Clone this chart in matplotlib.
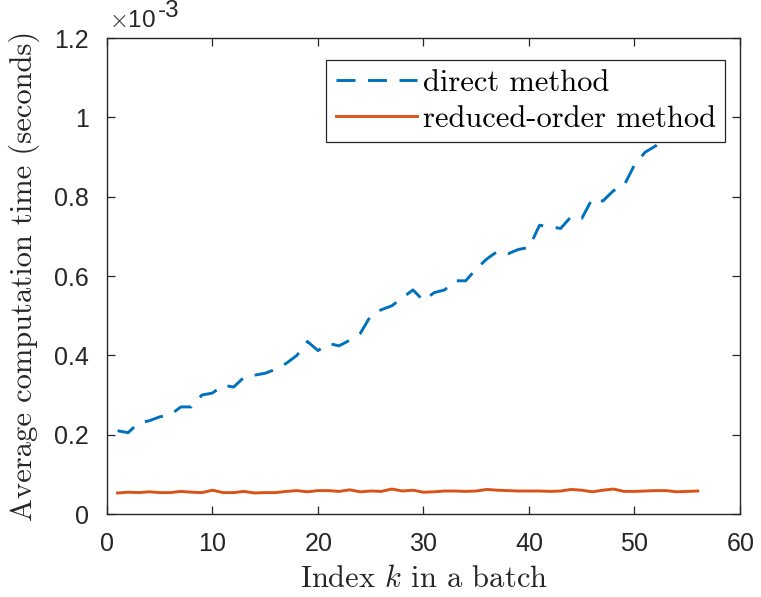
import matplotlib
matplotlib.use("Agg")
import matplotlib.pyplot as plt
from matplotlib.ticker import FuncFormatter

# Batch index
k_index = list(range(1, 57))

# Average computation time, in units of 1e-3 seconds
direct_method = [0.210, 0.205, 0.230, 0.235, 0.245, 0.250, 0.270, 0.270, 0.300, 0.305,
                 0.325, 0.320, 0.345, 0.350, 0.355, 0.365, 0.380, 0.400, 0.435, 0.412,
                 0.430, 0.424, 0.438, 0.455, 0.500, 0.515, 0.525, 0.545, 0.565, 0.538,
                 0.558, 0.565, 0.588, 0.588, 0.618, 0.643, 0.662, 0.656, 0.667, 0.672,
                 0.728, 0.724, 0.720, 0.750, 0.745, 0.795, 0.789, 0.815, 0.828, 0.880,
                 0.912, 0.928, 0.950, 0.985, 1.020, 1.060]
reduced_order = [0.053, 0.055, 0.054, 0.056, 0.054, 0.054, 0.057, 0.055, 0.054, 0.060,
                 0.054, 0.054, 0.057, 0.053, 0.054, 0.054, 0.057, 0.059, 0.056, 0.059,
                 0.059, 0.057, 0.061, 0.056, 0.058, 0.057, 0.063, 0.058, 0.060, 0.055,
                 0.056, 0.058, 0.058, 0.057, 0.058, 0.062, 0.060, 0.059, 0.058, 0.058,
                 0.058, 0.057, 0.058, 0.062, 0.060, 0.056, 0.060, 0.063, 0.057, 0.057,
                 0.058, 0.059, 0.059, 0.056, 0.057, 0.058]

x_ticks = [0, 10, 20, 30, 40, 50, 60]
y_ticks = [0, 0.2, 0.4, 0.6, 0.8, 1.0, 1.2]
series_labels = ["direct method", "reduced-order method"]

plt.rcParams['mathtext.fontset'] = 'cm'
plt.rcParams['axes.formatter.use_mathtext'] = True

fig = plt.figure(figsize=(7.61, 5.97), dpi=100)
ax = fig.add_axes([0.1406, 0.139, 0.8318, 0.7973])

axc = '#262626'
ax.plot(k_index, direct_method, color='#0072BD', lw=2.1, dashes=(6.5, 4.3),
        label=series_labels[0])
ax.plot(k_index, reduced_order, color='#D95319', lw=2.1, label=series_labels[1])

ax.set_xlim(0, 60)
ax.set_ylim(0, 1.2)
ax.set_xticks(x_ticks)
ax.set_yticks(y_ticks)
ax.yaxis.set_major_formatter(FuncFormatter(lambda v, p: f'{v:g}'))

for s in ax.spines.values():
    s.set_color(axc)
    s.set_linewidth(1.0)
ax.tick_params(direction='in', top=True, right=True, length=6, width=0.9,
               color=axc, labelcolor=axc, labelsize=18, pad=13)
for lab in ax.get_xticklabels() + ax.get_yticklabels():
    lab.set_family('Liberation Sans')

# exponent marker (x10^-3)
ax.annotate(r'$\times$10', xy=(0.0, 1.0), xycoords='axes fraction', xytext=(1.5, 8),
            textcoords='offset points', fontsize=17.5, family='Liberation Sans',
            color=axc, ha='left', va='baseline')
ax.annotate('-3', xy=(0.0, 1.0), xycoords='axes fraction', xytext=(36.5, 15),
            textcoords='offset points', fontsize=17.5, family='Liberation Sans',
            color=axc, ha='left', va='baseline')

ax.set_xlabel(r'Index $k$ in a batch', family='cmr10', fontsize=22, color=axc, labelpad=7)
ax.set_ylabel('Average computation time (seconds)', family='cmr10', fontsize=22,
              color=axc, labelpad=10)

leg = ax.legend(loc='upper right', bbox_to_anchor=(0.976, 0.954), prop={'family': 'cmr10', 'size': 22},
                frameon=True, fancybox=False, edgecolor=axc, handlelength=2.65,
                borderpad=0.3, labelspacing=0.3, handletextpad=0.2, borderaxespad=0)
leg.get_frame().set_linewidth(0.9)
leg.get_frame().set_alpha(1)

fig.savefig('out.png', dpi=100, facecolor='white')
